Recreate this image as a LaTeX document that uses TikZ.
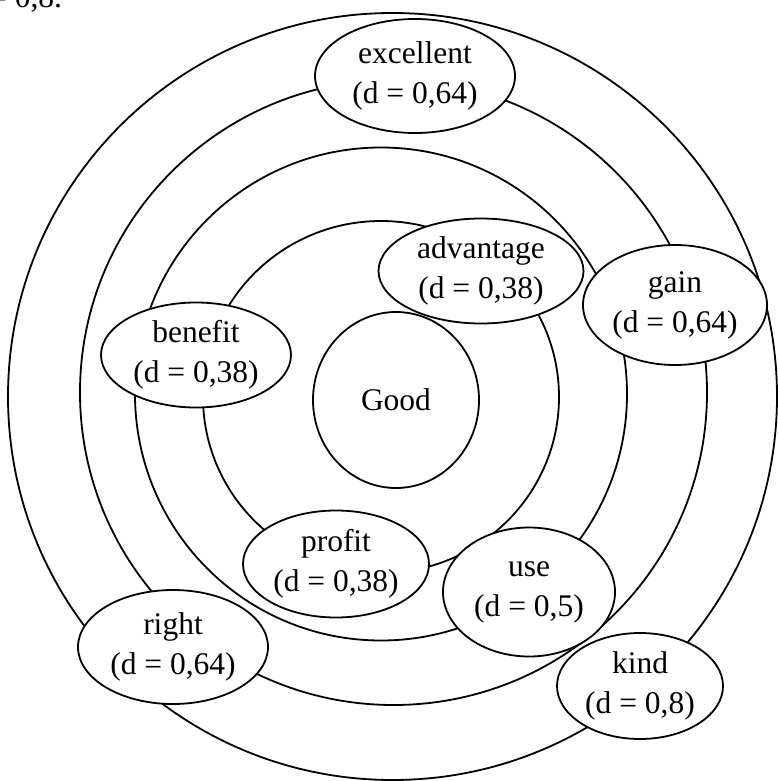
\documentclass[tikz,border=0pt]{standalone}
\usepackage{fontspec}
\setmainfont{Liberation Serif}
\usetikzlibrary{shapes.geometric}
\begin{document}
\begin{tikzpicture}[x=1pt,y=-1pt,line width=1.8pt,
  ring/.style={draw},
  txt/.style={font=\fontsize{31.5}{40}\selectfont},
  word/.style={ellipse, draw, fill=white, inner sep=0pt, align=center, txt},
]
\useasboundingbox (0,0) rectangle (777,781);
% rings
\draw[ring] (392.5,396.5) ellipse [x radius=384.5pt, y radius=383.5pt];
\draw[ring] (393.5,392.5) ellipse [x radius=313.5pt, y radius=312.5pt];
\draw[ring] (381,394) ellipse [x radius=246pt, y radius=246.5pt];
\draw[ring] (381,397) ellipse [x radius=178pt, y radius=176pt];
% centre
\node[word, minimum width=166pt, minimum height=176pt] (good) at (396,400) {Good};
% words
\node[word, minimum width=200pt, minimum height=114pt] (excellent) at (415,76) {excellent\\(d = 0,64)};
\node[word, minimum width=205pt, minimum height=105pt] (advantage) at (481,271) {advantage\\(d = 0,38)};
\node[word, minimum width=184pt, minimum height=120pt] (gain) at (675,305) {gain\\(d = 0,64)};
\node[word, minimum width=190pt, minimum height=105pt] (benefit) at (196,355) {benefit\\(d = 0,38)};
\node[word, minimum width=186pt, minimum height=107pt] (profit) at (336,564) {profit\\(d = 0,38)};
\node[word, minimum width=190pt, minimum height=114pt] (right) at (173,647) {right\\(d = 0,64)};
\node[word, minimum width=172pt, minimum height=129pt] (use) at (529,592) {use\\(d = 0,5)};
\node[word, minimum width=166pt, minimum height=106pt] (kind) at (640,686) {kind\\(d = 0,8)};
% cut-off text at the top
\node[txt, anchor=base east, inner sep=0pt] (note) at (63,8) {= 0,8.};
\end{tikzpicture}
\end{document}
